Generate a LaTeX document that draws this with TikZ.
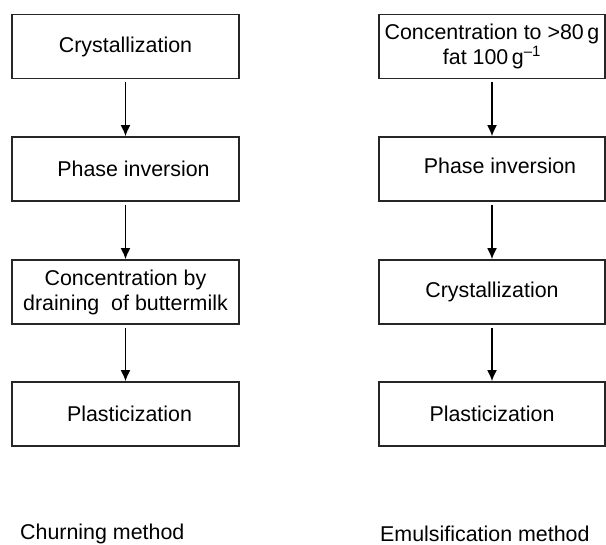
\documentclass[tikz,border=0pt]{standalone}
\usepackage{fontspec}
\setmainfont{Liberation Sans}
\usetikzlibrary{arrows.meta}

\begin{document}
\begin{tikzpicture}[x=1pt,y=1pt,
  box/.style={draw=black!85,line width=1.5pt,minimum width=227pt,minimum height=64pt,
    inner sep=0pt,align=center,font=\fontsize{21.4}{25}\selectfont},
  arr/.style={-{Latex[length=11pt,width=10pt]},line width=1.8pt,shorten <=3pt},
  title/.style={anchor=west,inner sep=0pt,font=\fontsize{21.4}{25}\selectfont}]

\useasboundingbox (0,0) rectangle (606,545);

% churning method
\node[box] (ca) at (125.5,498.5) {Crystallization};
\node[box] (cb) at (125.5,376) {\hspace{16pt}Phase inversion};
\node[box] (cc) at (125.5,253) {Concentration by\\draining\ \ of buttermilk};
\node[box] (cd) at (125.5,131) {\hspace{8pt}Plasticization};

\draw[arr] (ca) -- (cb);
\draw[arr] (cb) -- (cc);
\draw[arr] (cc) -- (cd);

% emulsification method
\node[box,minimum width=226pt] (ea) at (492,498.5) {Concentration to >80\,g\\fat 100\,g\textsuperscript{–1}};
\node[box,minimum width=226pt] (eb) at (492,376) {\raisebox{6pt}{\hspace{16pt}Phase inversion}};
\node[box,minimum width=226pt] (ec) at (492,253) {Crystallization};
\node[box,minimum width=226pt] (ed) at (492,131) {Plasticization};

\draw[arr] (ea) -- (eb);
\draw[arr] (eb) -- (ec);
\draw[arr] (ec) -- (ed);

\node[title] (lc) at (20,11) {Churning method};
\node[title] (le) at (380,11) {Emulsification method};

\end{tikzpicture}
\end{document}
